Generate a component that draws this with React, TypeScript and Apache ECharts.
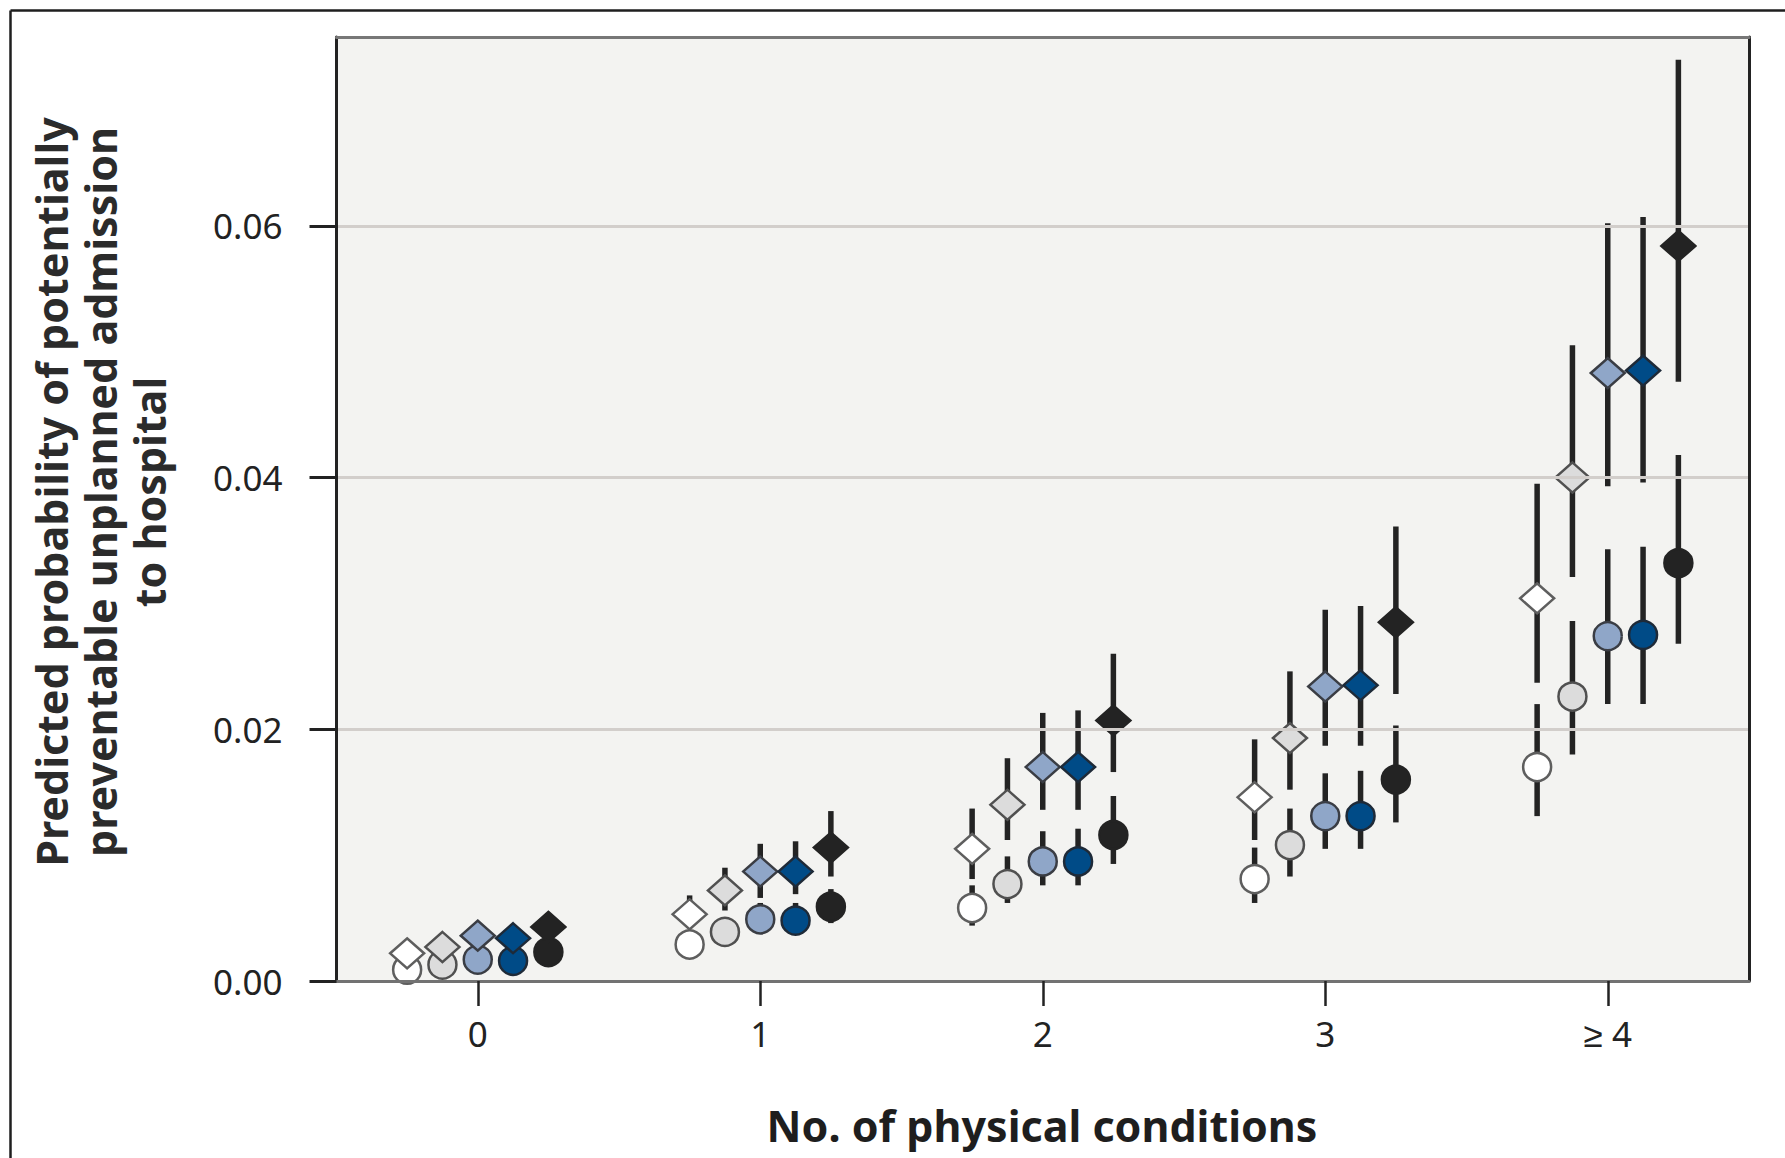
import React, { useEffect, useRef } from 'react';
import * as echarts from 'echarts';

// ---------- data ----------
const categories = ['0', '1', '2', '3', '≥ 4'];
const yTicks = [0, 0.02, 0.04, 0.06];
const groupNames = ['Group 1', 'Group 2', 'Group 3', 'Group 4', 'Group 5'];

const xTitle = 'No. of physical conditions';
const yTitleLines = [
  'Predicted probability of potentially',
  'preventable unplanned admission',
  'to hospital',
];

// Group 1 (white)
const whiteDiamond = [0.0022, 0.0053, 0.0105, 0.0146, 0.0304];
const whiteDiamondLo = [0.0017, 0.0042, 0.0081, 0.0112, 0.0237];
const whiteDiamondHi = [0.0029, 0.0068, 0.0137, 0.0192, 0.0395];
const whiteCircle = [0.0009, 0.0029, 0.0058, 0.0081, 0.017];
const whiteCircleLo = [0.0005, 0.0021, 0.0044, 0.0062, 0.0131];
const whiteCircleHi = [0.0014, 0.0037, 0.0076, 0.0106, 0.022];

// Group 2 (light grey)
const grayDiamond = [0.0027, 0.0072, 0.014, 0.0193, 0.04];
const grayDiamondLo = [0.0021, 0.0056, 0.0112, 0.0152, 0.0321];
const grayDiamondHi = [0.0035, 0.009, 0.0177, 0.0246, 0.0505];
const grayCircle = [0.0013, 0.0039, 0.0077, 0.0108, 0.0226];
const grayCircleLo = [0.0009, 0.003, 0.0062, 0.0083, 0.018];
const grayCircleHi = [0.0018, 0.0049, 0.0099, 0.0137, 0.0286];

// Group 3 (light blue)
const lblueDiamond = [0.0036, 0.0087, 0.017, 0.0234, 0.0483];
const lblueDiamondLo = [0.0028, 0.0066, 0.0136, 0.0187, 0.0393];
const lblueDiamondHi = [0.0044, 0.0109, 0.0213, 0.0295, 0.0602];
const lblueCircle = [0.0017, 0.0049, 0.0095, 0.0131, 0.0274];
const lblueCircleLo = [0.0012, 0.0039, 0.0076, 0.0105, 0.022];
const lblueCircleHi = [0.0023, 0.0062, 0.0119, 0.0165, 0.0343];

// Group 4 (dark blue)
const dblueDiamond = [0.0034, 0.0087, 0.017, 0.0235, 0.0485];
const dblueDiamondLo = [0.0027, 0.0069, 0.0136, 0.0187, 0.0396];
const dblueDiamondHi = [0.0042, 0.0111, 0.0215, 0.0298, 0.0607];
const dblueCircle = [0.0016, 0.0048, 0.0095, 0.0131, 0.0275];
const dblueCircleLo = [0.0011, 0.0038, 0.0076, 0.0105, 0.022];
const dblueCircleHi = [0.0022, 0.0062, 0.0121, 0.0167, 0.0345];

// Group 5 (black)
const blackDiamond = [0.0043, 0.0106, 0.0207, 0.0285, 0.0584];
const blackDiamondLo = [0.0035, 0.0083, 0.0166, 0.0228, 0.0476];
const blackDiamondHi = [0.0052, 0.0135, 0.026, 0.0361, 0.0732];
const blackCircle = [0.0023, 0.0059, 0.0116, 0.016, 0.0332];
const blackCircleLo = [0.0016, 0.0046, 0.0093, 0.0126, 0.0268];
const blackCircleHi = [0.0031, 0.0073, 0.0147, 0.0203, 0.0418];

// ---------- layout / style ----------
const dodge = [-0.25, -0.125, 0, 0.125, 0.25];
const fills = ['#ffffff', '#dcdcdc', '#8fa6c8', '#004b87', '#232323'];
const borders = ['#5e5e5e', '#505050', '#3a3d44', '#1e2a38', '#232323'];
const FONT = "'Noto Sans', sans-serif";

const groups = [
  { d: whiteDiamond, dl: whiteDiamondLo, dh: whiteDiamondHi, c: whiteCircle, cl: whiteCircleLo, ch: whiteCircleHi },
  { d: grayDiamond, dl: grayDiamondLo, dh: grayDiamondHi, c: grayCircle, cl: grayCircleLo, ch: grayCircleHi },
  { d: lblueDiamond, dl: lblueDiamondLo, dh: lblueDiamondHi, c: lblueCircle, cl: lblueCircleLo, ch: lblueCircleHi },
  { d: dblueDiamond, dl: dblueDiamondLo, dh: dblueDiamondHi, c: dblueCircle, cl: dblueCircleLo, ch: dblueCircleHi },
  { d: blackDiamond, dl: blackDiamondLo, dh: blackDiamondHi, c: blackCircle, cl: blackCircleLo, ch: blackCircleHi },
];

function buildOption() {
  const series: any[] = [];
  const barData: number[][] = [];
  groups.forEach((g, gi) => {
    categories.forEach((_, ci) => {
      const x = ci + dodge[gi];
      barData.push([x, g.dl[ci], g.dh[ci]]);
      barData.push([x, g.cl[ci], g.ch[ci]]);
    });
  });
  series.push({
    type: 'custom',
    name: 'CI',
    xAxisIndex: 1,
    yAxisIndex: 0,
    z: 2,
    data: barData,
    encode: { x: 0, y: [1, 2] },
    renderItem: (params: any, api: any) => {
      const x = api.value(0);
      const p1 = api.coord([x, api.value(1)]);
      const p2 = api.coord([x, api.value(2)]);
      return {
        type: 'line',
        shape: { x1: p1[0], y1: p1[1], x2: p2[0], y2: p2[1] },
        style: { stroke: '#232323', lineWidth: 5.5 },
      };
    },
  });
  groups.forEach((g, gi) => {
    series.push({
      type: 'scatter',
      name: groupNames[gi] + ' (circle)',
      xAxisIndex: 1,
      yAxisIndex: 0,
      z: 3,
      symbol: 'circle',
      symbolSize: 28,
      itemStyle: { color: fills[gi], borderColor: borders[gi], borderWidth: 2.5, opacity: 1 },
      data: g.c.map((v, ci) => [ci + dodge[gi], v]),
    });
  });
  groups.forEach((g, gi) => {
    series.push({
      type: 'scatter',
      name: groupNames[gi] + ' (diamond)',
      xAxisIndex: 1,
      yAxisIndex: 0,
      z: 4,
      symbol: 'diamond',
      symbolSize: [34, 30],
      itemStyle: { color: fills[gi], borderColor: borders[gi], borderWidth: 2.5, opacity: 1 },
      data: g.d.map((v, ci) => [ci + dodge[gi], v]),
    });
  });

  return {
    animation: false,
    backgroundColor: '#ffffff',
    textStyle: { fontFamily: FONT },
    grid: {
      left: 336.5,
      top: 37,
      width: 1412.5,
      height: 944,
      show: true,
      backgroundColor: '#f3f3f1',
      borderWidth: 0,
    },
    xAxis: [
      {
        type: 'category',
        data: categories,
        position: 'bottom',
        boundaryGap: true,
        z: 5,
        axisLine: { show: true, onZero: false, lineStyle: { color: '#727272', width: 3 } },
        axisTick: { show: true, alignWithLabel: true, length: 25, lineStyle: { color: '#222222', width: 2.5 } },
        axisLabel: { fontSize: 35, color: '#222222', margin: 35, fontFamily: FONT },
        splitLine: { show: false },
      },
      {
        type: 'value',
        min: -0.5,
        max: 4.5,
        position: 'top',
        z: 5,
        axisLine: { show: true, onZero: false, lineStyle: { color: '#777777', width: 3 } },
        axisTick: { show: false },
        axisLabel: { show: false },
        splitLine: { show: false },
      },
    ],
    yAxis: [
      {
        type: 'value',
        min: 0,
        max: 0.075,
        interval: 0.02,
        position: 'left',
        z: 5,
        axisLine: { show: true, onZero: false, lineStyle: { color: '#222222', width: 3 } },
        axisTick: { show: true, length: 27, customValues: yTicks, lineStyle: { color: '#222222', width: 3 } },
        axisLabel: {
          customValues: yTicks,
          formatter: (v: number) => (Math.abs(v / 0.02 - Math.round(v / 0.02)) < 1e-6 ? v.toFixed(2) : ''),
          fontSize: 35,
          color: '#222222',
          margin: 54,
          padding: [0, 0, 6, 0],
          fontFamily: FONT,
        },
        splitLine: {
          show: true,
          showMinLine: false,
          lineStyle: { color: '#d2cecb', width: 3 },
        },
      },
      {
        type: 'value',
        min: 0,
        max: 0.075,
        position: 'right',
        z: 5,
        axisLine: { show: true, onZero: false, lineStyle: { color: '#222222', width: 3 } },
        axisTick: { show: false },
        axisLabel: { show: false },
        splitLine: { show: false },
      },
    ],
    graphic: [
      {
        type: 'line',
        shape: { x1: 10.5, y1: 10.5, x2: 1785, y2: 10.5 },
        style: { stroke: '#1e1e1e', lineWidth: 2.5 },
      },
      {
        type: 'line',
        shape: { x1: 10.5, y1: 10.5, x2: 10.5, y2: 1158 },
        style: { stroke: '#1e1e1e', lineWidth: 2.5 },
      },
      {
        type: 'text',
        x: 100,
        y: 492,
        rotation: Math.PI / 2,
        style: {
          text: yTitleLines.join('\n'),
          fontSize: 43,
          fontWeight: 'bold',
          fontFamily: FONT,
          fill: '#2b2b2b',
          lineHeight: 49,
          align: 'center',
          verticalAlign: 'middle',
          textAlign: 'center',
          textVerticalAlign: 'middle',
        },
      },
      {
        type: 'text',
        x: 1042,
        y: 1125,
        style: {
          text: xTitle,
          fontSize: 43,
          fontWeight: 'bold',
          fontFamily: FONT,
          fill: '#1e1e1e',
          align: 'center',
          verticalAlign: 'middle',
          textAlign: 'center',
          textVerticalAlign: 'middle',
        },
      },
    ],
    series,
  };
}

export default function App() {
  const ref = useRef<HTMLDivElement>(null);
  useEffect(() => {
    if (!ref.current) return;
    const chart = echarts.init(ref.current, null, { renderer: 'svg' });
    chart.setOption(buildOption() as any);
    return () => chart.dispose();
  }, []);
  return (
    <div
      ref={ref}
      style={{ position: 'absolute', left: 0, top: 0, width: 1785, height: 1158, background: '#ffffff' }}
    />
  );
}
